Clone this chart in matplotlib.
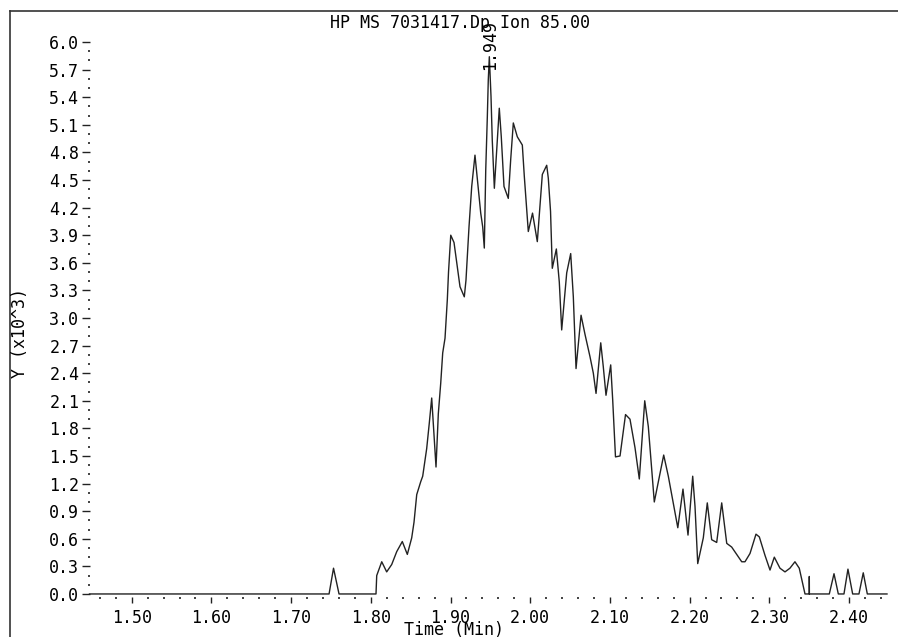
import matplotlib
matplotlib.use("Agg")
import matplotlib.pyplot as plt
from matplotlib.lines import Line2D
from matplotlib.ticker import MultipleLocator, FixedLocator, FormatStrFormatter

# ── trace (time in min, abundance in x10^3) ──
time_min = [
	1.447, 1.7476, 1.7532, 1.7601, 1.8065, 1.8074, 1.8137, 1.8199, 1.8262, 1.8325,
	1.8395, 1.8458, 1.8513, 1.8542, 1.8576, 1.8626, 1.8651, 1.8701, 1.8734, 1.8764,
	1.8818, 1.8847, 1.8877, 1.8902, 1.8931, 1.8960, 1.8975, 1.9003, 1.9044, 1.9119,
	1.9173, 1.9194, 1.9232, 1.9266, 1.9307, 1.9329, 1.9379, 1.9404, 1.9424, 1.9442,
	1.9462, 1.9474, 1.9487, 1.9508, 1.9524, 1.9550, 1.9612, 1.9637, 1.9671, 1.9725,
	1.9755, 1.9788, 1.9838, 1.9901, 1.9926, 1.9976, 2.0029, 2.0089, 2.0132, 2.0152,
	2.0207, 2.0227, 2.0255, 2.0277, 2.0328, 2.0365, 2.0395, 2.0458, 2.0508, 2.0541,
	2.0575, 2.0638, 2.0688, 2.0750, 2.0792, 2.0826, 2.0885, 2.0917, 2.0951, 2.1010,
	2.1035, 2.1070, 2.1127, 2.1196, 2.1252, 2.1315, 2.1369, 2.1437, 2.1482, 2.1557,
	2.1675, 2.1733, 2.1852, 2.1917, 2.1980, 2.2039, 2.2068, 2.2102, 2.2172, 2.2222,
	2.2277, 2.2340, 2.2403, 2.2466, 2.2528, 2.2654, 2.2695, 2.2758, 2.2833, 2.2875,
	2.2946, 2.3009, 2.3063, 2.3134, 2.3197, 2.3259, 2.3322, 2.3376, 2.3448, 2.3502,
	2.3502, 2.3503, 2.3753, 2.3812, 2.3866, 2.3937, 2.3987, 2.4046, 2.4125, 2.4179,
	2.4230, 2.4477,
]
intensity = [
	0.00, 0.00, 0.28, 0.00, 0.00, 0.20, 0.35, 0.24, 0.32, 0.46,
	0.57, 0.43, 0.61, 0.78, 1.08, 1.22, 1.28, 1.58, 1.86, 2.13,
	1.38, 1.96, 2.29, 2.62, 2.78, 3.20, 3.50, 3.90, 3.82, 3.34,
	3.23, 3.41, 3.99, 4.43, 4.77, 4.58, 4.14, 3.99, 3.76, 4.61,
	5.19, 5.59, 5.84, 5.41, 4.93, 4.41, 5.28, 4.97, 4.43, 4.30,
	4.72, 5.12, 4.97, 4.88, 4.54, 3.94, 4.14, 3.83, 4.32, 4.56,
	4.66, 4.52, 4.16, 3.54, 3.75, 3.39, 2.87, 3.49, 3.70, 3.23,
	2.45, 3.03, 2.82, 2.58, 2.40, 2.18, 2.73, 2.47, 2.16, 2.49,
	2.11, 1.49, 1.50, 1.95, 1.90, 1.59, 1.25, 2.10, 1.82, 1.00,
	1.51, 1.28, 0.72, 1.14, 0.64, 1.28, 0.95, 0.33, 0.61, 0.99,
	0.59, 0.56, 0.99, 0.55, 0.51, 0.35, 0.35, 0.44, 0.65, 0.62,
	0.42, 0.26, 0.40, 0.28, 0.24, 0.28, 0.35, 0.28, 0.00, 0.00,
	0.19, 0.00, 0.00, 0.22, 0.00, 0.00, 0.27, 0.00, 0.00, 0.23,
	0.00, 0.00,
]

title = "HP MS 7031417.Dp Ion 85.00"
peak_time = 1.949
peak_label = "1.949"
y_major = [i * 0.3 for i in range(21)]      # 0.0 .. 6.0
y_minor = [i * 0.1 for i in range(61)]

W, H = 898, 637
MONO = "DejaVu Sans Mono"
FS = 12

fig = plt.figure(figsize=(W / 100, H / 100), dpi=100)
fig.patch.set_facecolor("white")

# axes box in pixels: left 89.5, right 887, bottom 597, top 14.4
ax = fig.add_axes([89.5 / W, (H - 597) / H, (887 - 89.5) / W, (597 - 14.4) / H])
ax.plot(time_min, intensity, color="#222222", lw=1.0, clip_on=False)
ax.set_xlim(1.447, 2.4477)
ax.set_ylim(-0.033, 6.3)

for s in ax.spines.values():
	s.set_visible(False)

ax.xaxis.set_major_locator(MultipleLocator(0.1))
ax.xaxis.set_minor_locator(MultipleLocator(0.02))
ax.xaxis.set_major_formatter(FormatStrFormatter("%.2f"))
ax.yaxis.set_major_locator(FixedLocator(y_major))
ax.yaxis.set_minor_locator(FixedLocator(y_minor))
ax.yaxis.set_major_formatter(FormatStrFormatter("%.1f"))

ax.tick_params(axis="x", which="major", direction="out", length=4.3, width=1.0,
	pad=4.0, labelsize=FS, color="#222222")
ax.tick_params(axis="x", which="minor", direction="out", length=1.4, width=1.2, color="#222222")
ax.tick_params(axis="y", which="major", direction="out", length=5.8, width=1.0,
	pad=1.5, labelsize=FS, color="#222222")
ax.tick_params(axis="y", which="minor", direction="out", length=1.4, width=1.2, color="#222222")
for lab in ax.get_xticklabels() + ax.get_yticklabels():
	lab.set_family(MONO)

# retention-time label on the apex
ax.text(peak_time, 5.97, peak_label, rotation=90, ha="center", va="center",
	family=MONO, fontsize=FS)

fig.text(459.5 / W, (H - 28) / H, title, ha="center", va="baseline", family=MONO, fontsize=FS)
fig.text(453.5 / W, (H - 635) / H, "Time (Min)", ha="center", va="baseline", family=MONO, fontsize=FS)
fig.text(20 / W, (H - 333) / H, "Y (x10^3)", rotation=90, ha="center", va="center",
	family=MONO, fontsize=FS)

# outer frame (left and top edges visible)
fig.add_artist(Line2D([9.5 / W, 9.5 / W], [0, (H - 10.5) / H], color="#333333", lw=1.2))
fig.add_artist(Line2D([9.5 / W, 1], [(H - 10.5) / H, (H - 10.5) / H], color="#333333", lw=1.2))

fig.savefig("out.png", dpi=100)
